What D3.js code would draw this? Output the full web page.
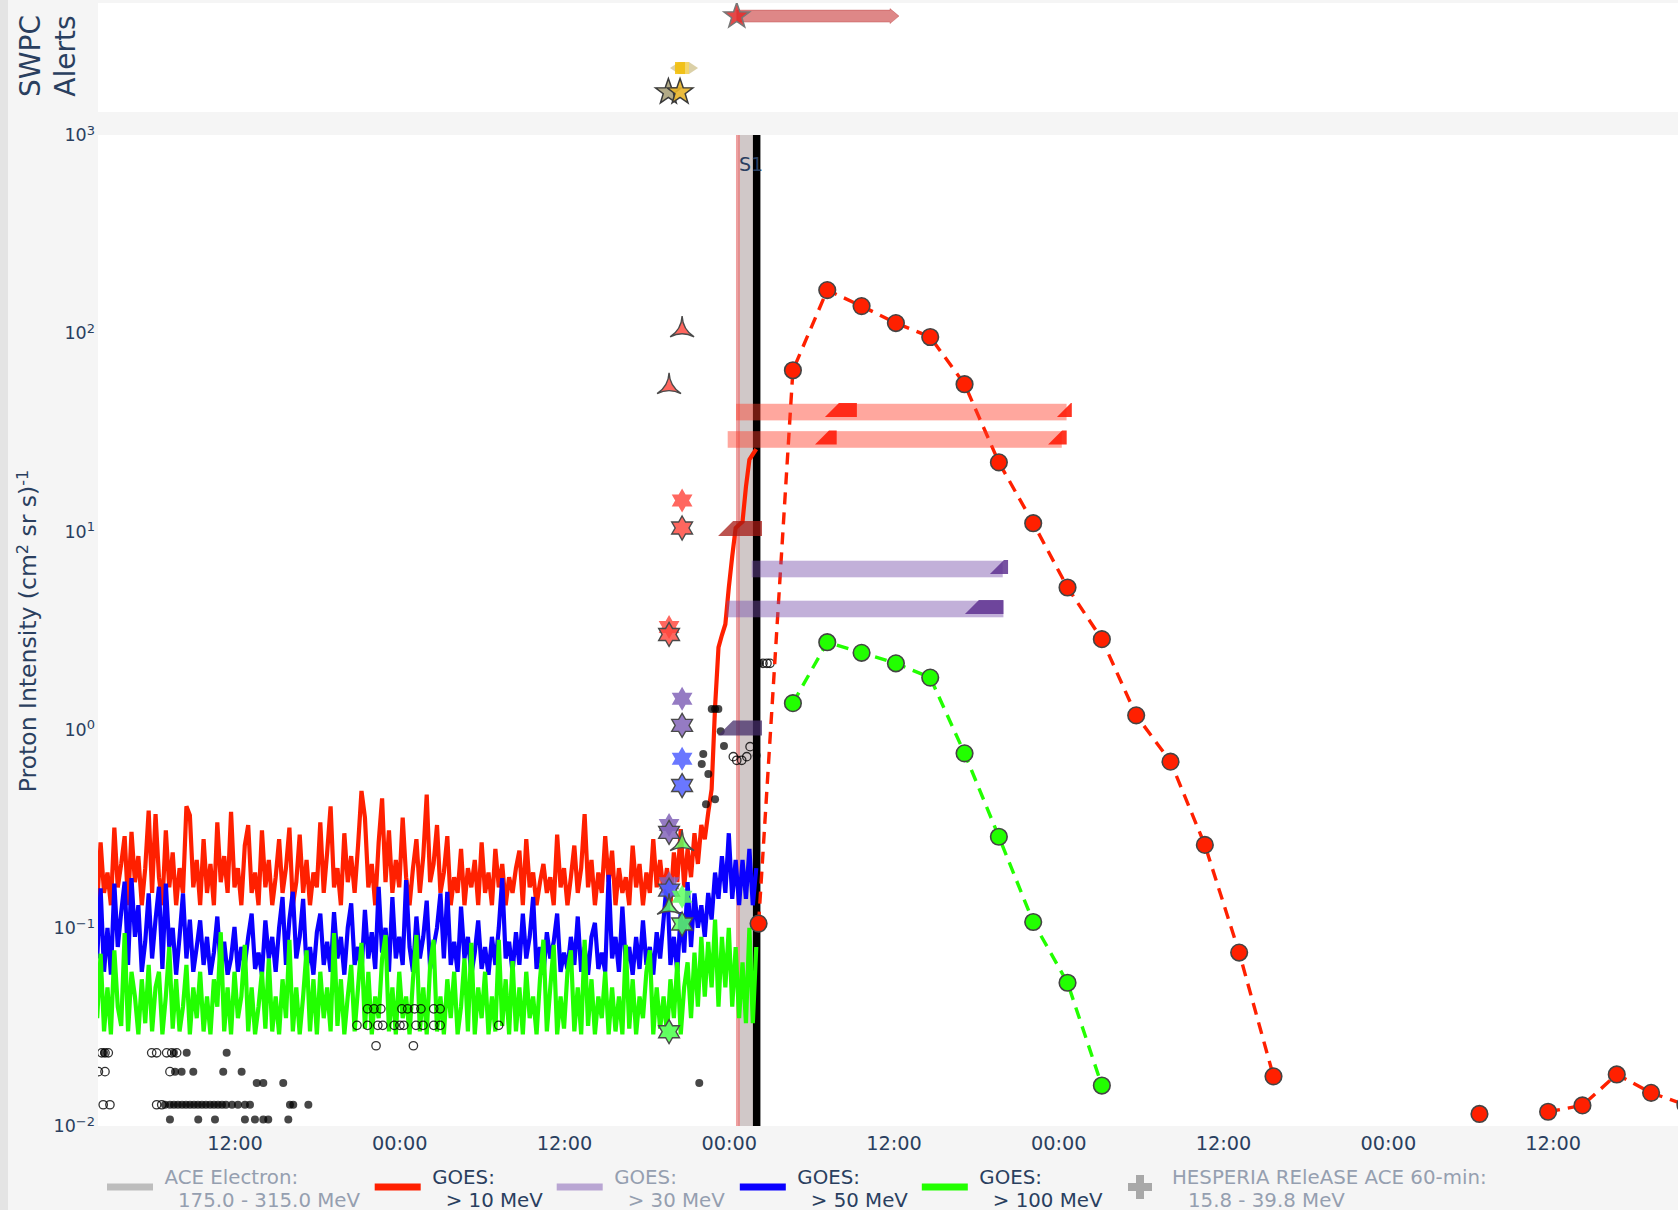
<!DOCTYPE html>
<html>
<head>
<meta charset="utf-8">
<script src="https://cdn.jsdelivr.net/npm/d3@7"></script>
<style>
  html, body { margin: 0; padding: 0; background: #f5f5f5; }
  svg { display: block; font-family: "DejaVu Sans", Verdana, sans-serif; }
</style>
</head>
<body>
<svg id="chart" width="1678" height="1210"></svg>
<script>
// ---------------------------------------------------------------
// Times are stored as hours counted from DAY0 (UTC midnight, day 1)
// ---------------------------------------------------------------
const DAY0 = Date.UTC(2024, 4, 10);
const HOUR = 3600e3;
const at = h => new Date(DAY0 + h * HOUR);

const viewStartHour = 2.06;
const viewEndHour = 117.13;
const xTickHours = [12, 24, 36, 48, 60, 72, 84, 96, 108];
const yTickValues = [1e-2, 1e-1, 1e0, 1e1, 1e2, 1e3];
const yTickExponents = ["\u22122", "\u22121", "0", "1", "2", "3"];

// GOES integral proton flux, 15-minute samples from 02:00 on day 1
const goesStartHour = 2.0;
const goesStepHours = 0.25;
const goes10 = [
  0.13,0.27,0.15,0.19,0.13,0.32,0.16,0.21,0.29,0.13,
  0.305,0.17,0.23,0.13,0.2,0.39,0.15,0.375,0.18,0.13,
  0.31,0.16,0.24,0.13,0.2,0.15,0.41,0.37,0.16,0.22,
  0.13,0.28,0.15,0.21,0.13,0.34,0.17,0.23,0.15,0.385,
  0.16,0.2,0.13,0.26,0.33,0.15,0.19,0.13,0.31,0.16,
  0.22,0.13,0.18,0.28,0.15,0.2,0.32,0.13,0.17,0.295,
  0.15,0.22,0.13,0.19,0.16,0.34,0.15,0.24,0.41,0.16,
  0.2,0.13,0.30,0.17,0.23,0.15,0.26,0.49,0.36,0.16,
  0.21,0.13,0.27,0.45,0.17,0.31,0.15,0.22,0.16,0.36,
  0.18,0.13,0.2,0.28,0.15,0.23,0.47,0.17,0.21,0.33,
  0.15,0.19,0.29,0.13,0.18,0.15,0.25,0.13,0.2,0.16,
  0.22,0.13,0.27,0.15,0.19,0.13,0.25,0.16,0.21,0.13,
  0.18,0.15,0.2,0.245,0.13,0.28,0.16,0.19,0.13,0.17,
  0.21,0.15,0.18,0.13,0.295,0.16,0.2,0.13,0.18,0.26,
  0.15,0.2,0.375,0.16,0.22,0.13,0.19,0.15,0.29,0.17,
  0.245,0.13,0.2,0.15,0.18,0.13,0.26,0.16,0.21,0.13,
  0.19,0.15,0.28,0.16,0.22,0.15,0.2,0.13,0.24,0.17,
  0.315,0.16,0.25,0.18,0.3,0.21,0.33,0.28,0.38,0.5,
  1.3,2.6,3.0,3.4,5.2,7.5,10.4,10.8,11.2,16.8,
  23.0,24.5,26.0
];
const goes50 = [
  0.07,0.158,0.06,0.1,0.058,0.167,0.08,0.12,0.171,0.065,
  0.178,0.09,0.13,0.06,0.085,0.149,0.07,0.11,0.161,0.062,
  0.167,0.08,0.1,0.058,0.09,0.149,0.07,0.11,0.06,0.08,
  0.109,0.065,0.09,0.058,0.075,0.114,0.062,0.085,0.058,0.07,
  0.101,0.06,0.08,0.065,0.09,0.118,0.062,0.075,0.058,0.109,
  0.07,0.09,0.06,0.1,0.143,0.065,0.11,0.152,0.07,0.09,
  0.14,0.062,0.08,0.058,0.095,0.118,0.065,0.085,0.06,0.12,
  0.07,0.09,0.058,0.1,0.133,0.065,0.08,0.06,0.123,0.07,
  0.095,0.062,0.161,0.075,0.1,0.06,0.143,0.07,0.09,0.065,
  0.174,0.08,0.06,0.114,0.07,0.09,0.137,0.062,0.08,0.1,
  0.149,0.07,0.152,0.065,0.085,0.06,0.128,0.07,0.09,0.058,
  0.075,0.109,0.062,0.08,0.058,0.09,0.065,0.1,0.178,0.07,
  0.085,0.06,0.095,0.065,0.118,0.07,0.09,0.143,0.062,0.08,
  0.058,0.095,0.07,0.085,0.118,0.06,0.075,0.062,0.09,0.065,
  0.114,0.06,0.08,0.058,0.09,0.106,0.062,0.075,0.06,0.185,
  0.07,0.09,0.06,0.128,0.065,0.08,0.058,0.09,0.062,0.109,
  0.065,0.08,0.058,0.095,0.07,0.11,0.175,0.065,0.09,0.06,
  0.12,0.075,0.17,0.08,0.149,0.1,0.13,0.09,0.15,0.11,
  0.19,0.14,0.23,0.15,0.30,0.14,0.22,0.13,0.22,0.14,
  0.25,0.13,0.2
];
const goes100 = [
  0.035,0.074,0.03,0.05,0.029,0.077,0.04,0.032,0.094,0.03,
  0.06,0.045,0.029,0.055,0.033,0.065,0.03,0.05,0.06,0.029,
  0.045,0.08,0.031,0.055,0.03,0.04,0.065,0.029,0.05,0.035,
  0.06,0.03,0.045,0.029,0.055,0.04,0.095,0.03,0.05,0.029,
  0.06,0.035,0.045,0.082,0.03,0.05,0.029,0.04,0.06,0.031,
  0.07,0.03,0.045,0.029,0.055,0.035,0.087,0.03,0.05,0.029,
  0.045,0.077,0.03,0.055,0.029,0.06,0.035,0.05,0.03,0.094,
  0.032,0.055,0.029,0.045,0.065,0.03,0.05,0.084,0.031,0.06,
  0.029,0.045,0.035,0.07,0.092,0.03,0.05,0.029,0.06,0.035,
  0.045,0.029,0.055,0.092,0.03,0.05,0.029,0.065,0.087,0.03,
  0.045,0.029,0.055,0.035,0.06,0.029,0.04,0.07,0.03,0.084,
  0.029,0.05,0.035,0.06,0.029,0.045,0.03,0.087,0.032,0.055,
  0.029,0.068,0.03,0.05,0.029,0.06,0.035,0.045,0.029,0.055,
  0.087,0.03,0.05,0.082,0.029,0.045,0.031,0.06,0.077,0.03,
  0.05,0.029,0.087,0.032,0.055,0.029,0.045,0.035,0.06,0.029,
  0.05,0.03,0.045,0.029,0.082,0.031,0.055,0.029,0.045,0.035,
  0.06,0.077,0.029,0.05,0.031,0.045,0.029,0.055,0.035,0.067,
  0.029,0.05,0.067,0.035,0.075,0.04,0.09,0.045,0.085,0.05,
  0.11,0.04,0.09,0.05,0.1,0.04,0.08,0.035,0.067,0.033,
  0.1,0.033,0.08
];

// Model proton profile, 2.5-hour steps (null = no value)
const modelHours = [
  50.17, 52.67, 55.17, 57.67, 60.17, 62.67, 65.17, 67.67, 70.17, 72.67,
  75.17, 77.67, 80.17, 82.67, 85.17, 87.67, 90.17, 92.67, 95.17, 97.67,
  100.17, 102.67, 105.17, 107.67, 110.17, 112.67, 115.17, 117.67
];
const model10 = [
  0.105, 65, 165, 137, 112.5, 95.7, 55.3, 22.3, 11.0, 5.21,
  2.86, 1.18, 0.689, 0.262, 0.075, 0.0178, null, null, null, null,
  null, 0.0115, null, 0.0118, 0.0127, 0.0182, 0.0147, 0.0128
];
const model100 = [
  null, 1.36, 2.76, 2.44, 2.16, 1.83, 0.759, 0.288, 0.107, 0.0528,
  0.016, null, null, null, null, null, null, null, null, null,
  null, null, null, null, null, null, null, null
];

// Particle observations: solid circles
const solidHours = [
  2.50, 7.59, 8.52, 11.43,
  7.67, 8.15, 9.00, 11.18, 12.52,
  13.62, 14.10, 15.55,
  6.94, 7.30, 7.59, 7.88, 8.18, 8.47, 8.76, 9.05, 9.34, 9.63, 9.92, 10.22,
  10.51, 10.80, 11.09, 11.38, 11.82, 12.25, 12.76, 13.13, 16.04, 16.28, 17.38,
  7.30, 9.36, 10.58, 12.76, 13.49, 14.10, 14.46, 15.92,
  46.76, 47.00, 47.24, 47.41, 47.65, 46.14, 46.03, 46.51, 46.34, 47.00,
  50.03, 50.06, 50.27, 45.85
];
const solidValues = [
  0.0234, 0.0234, 0.0234, 0.0234,
  0.0188, 0.0188, 0.0188, 0.0188, 0.0188,
  0.0165, 0.0165, 0.0165,
  0.0128, 0.0128, 0.0128, 0.0128, 0.0128, 0.0128, 0.0128, 0.0128, 0.0128, 0.0128, 0.0128, 0.0128,
  0.0128, 0.0128, 0.0128, 0.0128, 0.0128, 0.0128, 0.0128, 0.0128, 0.0128, 0.0128, 0.0128,
  0.0108, 0.0108, 0.0108, 0.0108, 0.0108, 0.0108, 0.0108, 0.0108,
  1.27, 1.27, 1.27, 0.98, 0.826, 0.753, 0.67, 0.597, 0.42, 0.445,
  0.74, 2.16, 2.16, 0.0165
];
// Particle observations: open circles
const openHours = [
  2.33, 2.57, 2.81, 5.97, 6.33, 7.06, 7.43, 7.79,
  2.09, 2.57, 7.30,
  2.44, 2.93, 6.33, 6.70,
  21.69, 22.16, 22.66, 24.19, 24.61, 25.11, 25.58, 26.51, 26.98,
  20.92, 21.69, 22.44, 22.80, 23.63, 24.05, 24.33, 25.22, 25.73, 26.51, 26.98, 31.24,
  22.31, 25.03,
  48.33, 48.58, 48.94, 49.31, 49.55, 50.49, 50.78, 51.00
];
const openValues = [
  0.0234, 0.0234, 0.0234, 0.0234, 0.0234, 0.0234, 0.0234, 0.0234,
  0.0188, 0.0188, 0.0188,
  0.0128, 0.0128, 0.0128, 0.0128,
  0.039, 0.039, 0.039, 0.039, 0.039, 0.039, 0.039, 0.039, 0.039,
  0.0322, 0.0322, 0.0322, 0.0322, 0.0322, 0.0322, 0.0322, 0.0322, 0.0322, 0.0322, 0.0322, 0.0322,
  0.0254, 0.0254,
  0.73, 0.70, 0.70, 0.73, 0.82, 2.16, 2.16, 2.16
];

// Forecast symbols at issue time
const fcHours   = [44.6, 43.65, 44.6, 44.6, 43.65, 43.65, 44.6, 44.6, 44.6, 44.6,
                   43.65, 43.65, 44.6, 43.65, 43.65, 44.6, 43.65, 44.6, 43.65, 43.65];
const fcValues  = [105.7, 54.6, 14.3, 10.4, 3.29, 3.02, 1.43, 1.05, 0.713, 0.522,
                   0.33, 0.303, 0.27, 0.168, 0.155, 0.1436, 0.129, 0.1045, 0.0299, 0.0299];
const fcShapes  = ["tri", "tri", "hex", "hex", "hex", "hex", "hex", "hex", "hex", "hex",
                   "hex", "hex", "tri", "hex", "hex", "hex", "tri", "hex", "hex", "hex"];
const fcChannel = ["p10", "p10", "p10", "p10", "p10", "p10", "p30", "p30", "p50", "p50",
                   "p30", "p30", "p100", "p30", "p50", "p100", "p100", "p100", "p100", "p100"];
const fcOutline = [true, true, false, true, false, true, false, true, false, true,
                   false, true, true, false, true, false, true, true, false, true];

// Forecast peak-flux windows
const winStart   = [48.53, 47.92, 49.67, 47.85];
const winEnd     = [72.60, 72.25, 67.95, 68.00];
const winValue   = [40, 29.1, 6.46, 4.06];
const winChannel = ["p10", "p10", "p30", "p30"];
// Solid onset / end wedges
const wedgeStart   = [55.0, 71.9, 54.28, 71.25, 67.02, 65.2, 47.22, 47.22];
const wedgeEnd     = [57.33, 72.98, 55.86, 72.61, 68.34, 68.0, 50.42, 50.42];
const wedgeValue   = [40, 40, 29.1, 29.1, 6.46, 4.06, 10.35, 1.02];
const wedgeChannel = ["p10", "p10", "p10", "p10", "p30", "p30", "p10dark", "p30dark"];

// Event markers
const bandStartHour = 48.67;
const bandEndHour = 50.03;
const onsetHour = 50.03;
const onsetLabel = "S1";

// SWPC alerts panel
const alertBarStart = [48.58, 43.72];
const alertBarEnd   = [59.74, 45.76];
const alertBarLevel = [2.64, 1.21];
const alertBarTone  = ["warning", "watch"];
const alertStarHours = [48.58, 43.6, 44.45];
const alertStarLevel = [2.64, 0.55, 0.55];
const alertStarTone  = ["warning", "olive", "gold"];

// Legend entries
const legendLine1 = ["ACE Electron:", "GOES:", "GOES:", "GOES:", "GOES:", "HESPERIA REleASE ACE 60-min:"];
const legendLine2 = ["175.0 - 315.0 MeV", "> 10 MeV", "> 30 MeV", "> 50 MeV", "> 100 MeV", "15.8 - 39.8 MeV"];
const legendHidden = [true, false, true, false, false, true];

// ---------------------------------------------------------------
const INK = "#2a3f5f";
const INK_FADED = "#959fb0";
const RED = "#ff2000", BLUE = "#0a00ff", GREEN = "#22ff00";
const channelFill = {
  p10: "rgba(255,70,60,0.82)", p30: "rgba(130,100,185,0.85)",
  p50: "rgba(80,95,255,0.85)", p100: "rgba(95,255,95,0.85)"
};
const winFill = { p10: "rgba(255,60,40,0.45)", p30: "rgba(120,80,170,0.45)" };
const wedgeFill = {
  p10: "rgba(255,30,10,0.9)", p30: "rgba(95,50,145,0.85)",
  p10dark: "rgba(165,25,20,0.75)", p30dark: "rgba(70,45,105,0.75)"
};

const plot = { left: 98, right: 1678, top: 135, bottom: 1126 };
const alertsBox = { top: 3, bottom: 112 };

const x = d3.scaleUtc().domain([at(viewStartHour), at(viewEndHour)]).range([plot.left, plot.right]);
const y = d3.scaleLog().domain([1e-2, 1e3]).range([plot.bottom, plot.top]);
const ya = d3.scaleLinear().domain([0, 3]).range([alertsBox.bottom, alertsBox.top]);

const svg = d3.select("#chart");

// paper and plot backgrounds
svg.append("rect").attr("width", 1678).attr("height", 1210).attr("fill", "#f5f5f5");
svg.append("rect").attr("width", 8).attr("height", 1210).attr("fill", "#e4e4e4");
svg.append("rect").attr("x", plot.left).attr("y", alertsBox.top)
  .attr("width", plot.right - plot.left).attr("height", alertsBox.bottom - alertsBox.top).attr("fill", "#fff");
svg.append("rect").attr("x", plot.left).attr("y", plot.top)
  .attr("width", plot.right - plot.left).attr("height", plot.bottom - plot.top).attr("fill", "#fff");

const defs = svg.append("defs");
defs.append("clipPath").attr("id", "clipMain").append("rect")
  .attr("x", plot.left).attr("y", plot.top)
  .attr("width", plot.right - plot.left).attr("height", plot.bottom - plot.top);
defs.append("clipPath").attr("id", "clipAlerts").append("rect")
  .attr("x", plot.left).attr("y", alertsBox.top)
  .attr("width", plot.right - plot.left).attr("height", alertsBox.bottom - alertsBox.top);

const main = svg.append("g").attr("clip-path", "url(#clipMain)");

// ---- event band and lines ----
main.append("rect")
  .attr("x", x(at(bandStartHour))).attr("y", plot.top)
  .attr("width", x(at(bandEndHour)) - x(at(bandStartHour))).attr("height", plot.bottom - plot.top)
  .attr("fill", "rgba(150,132,132,0.45)");
main.append("line")
  .attr("x1", x(at(bandStartHour))).attr("x2", x(at(bandStartHour)))
  .attr("y1", plot.top).attr("y2", plot.bottom)
  .attr("stroke", "rgba(232,120,120,0.7)").attr("stroke-width", 4);
main.append("line")
  .attr("x1", x(at(onsetHour))).attr("x2", x(at(onsetHour)))
  .attr("y1", plot.top).attr("y2", plot.bottom)
  .attr("stroke", "#000").attr("stroke-width", 7.5);

// ---- GOES series ----
const goesLine = d3.line().x(d => x(d.t)).y(d => y(d.v));
const toSeries = vals => vals.map((v, i) => ({ t: at(goesStartHour + i * goesStepHours), v }));
[[goes10, RED], [goes50, BLUE], [goes100, GREEN]].forEach(([vals, c]) => {
  main.append("path").datum(toSeries(vals))
    .attr("d", goesLine).attr("fill", "none")
    .attr("stroke", c).attr("stroke-width", 4.2).attr("stroke-linejoin", "miter");
});

// ---- observation circles ----
main.append("g").selectAll("circle").data(solidHours.map((h, i) => ({ t: at(h), v: solidValues[i] })))
  .join("circle").attr("cx", d => x(d.t)).attr("cy", d => y(d.v)).attr("r", 4)
  .attr("fill", "rgba(0,0,0,0.72)");
main.append("g").selectAll("circle").data(openHours.map((h, i) => ({ t: at(h), v: openValues[i] })))
  .join("circle").attr("cx", d => x(d.t)).attr("cy", d => y(d.v)).attr("r", 4.2)
  .attr("fill", "none").attr("stroke", "rgba(0,0,0,0.8)").attr("stroke-width", 1.3);

// ---- model profiles ----
const modelLine = d3.line().defined(d => d.v != null).x(d => x(d.t)).y(d => y(d.v));
[[model10, RED], [model100, GREEN]].forEach(([vals, c]) => {
  const pts = modelHours.map((h, i) => ({ t: at(h), v: vals[i] }));
  main.append("path").datum(pts).attr("d", modelLine).attr("fill", "none")
    .attr("stroke", c).attr("stroke-width", 3.4).attr("stroke-dasharray", "12,8");
  main.append("g").selectAll("circle").data(pts.filter(d => d.v != null)).join("circle")
    .attr("cx", d => x(d.t)).attr("cy", d => y(d.v)).attr("r", 8.3)
    .attr("fill", c).attr("stroke", "#444").attr("stroke-width", 1.6);
});

// ---- forecast windows ----
const BAR_HALF = 8.3;
main.append("g").selectAll("rect").data(winStart.map((s, i) => i)).join("rect")
  .attr("x", i => x(at(winStart[i])))
  .attr("width", i => x(at(winEnd[i])) - x(at(winStart[i])))
  .attr("y", i => y(winValue[i]) - BAR_HALF).attr("height", 2 * BAR_HALF)
  .attr("fill", i => winFill[winChannel[i]]);

function wedgePath(i) {
  const x0 = x(at(wedgeStart[i])), x1 = x(at(wedgeEnd[i]));
  const yc = y(wedgeValue[i]);
  const flag = wedgeChannel[i].endsWith("dark");
  const top = flag ? yc - 7.5 : yc - 9, bot = flag ? yc + 7.5 : yc + 5;
  const h = bot - top;
  const xt = Math.min(x0 + h, x1);
  return `M${x0},${bot}L${xt},${top}L${x1},${top}L${x1},${bot}Z`;
}
main.append("g").selectAll("path").data(wedgeStart.map((s, i) => i)).join("path")
  .attr("d", wedgePath).attr("fill", i => wedgeFill[wedgeChannel[i]]);

// ---- forecast symbols ----
function starPath(R, r, n) {
  const pts = [];
  for (let k = 0; k < 2 * n; k++) {
    const a = -Math.PI / 2 + k * Math.PI / n;
    const rad = k % 2 ? r : R;
    pts.push([(rad * Math.cos(a)).toFixed(2), (rad * Math.sin(a)).toFixed(2)]);
  }
  return "M" + pts.map(p => p.join(",")).join("L") + "Z";
}
function concaveTriangle(s) {
  const top = -s * 1.04, bot = s * 0.7, R = s * 2.2;
  return `M${-s},${bot}A${R},${R} 0 0 1 ${s},${bot}A${R},${R} 0 0 1 0,${top}A${R},${R} 0 0 1 ${-s},${bot}Z`;
}
const hexagram = starPath(12, 12 / Math.sqrt(3), 6);
const triangle = concaveTriangle(12);
main.append("g").selectAll("path").data(fcHours.map((h, i) => i)).join("path")
  .attr("transform", i => `translate(${x(at(fcHours[i]))},${y(fcValues[i])})`)
  .attr("d", i => fcShapes[i] === "tri" ? triangle : hexagram)
  .attr("fill", i => channelFill[fcChannel[i]])
  .attr("stroke", i => fcOutline[i] ? "#4a4a4a" : "none")
  .attr("stroke-width", 1.4);

// ---- onset label ----
svg.append("text").attr("x", x(at(bandStartHour)) + 1).attr("y", 170.5)
  .attr("font-size", 19).attr("fill", INK).text(onsetLabel);

// ---- alerts panel ----
const alerts = svg.append("g").attr("clip-path", "url(#clipAlerts)");
alertBarStart.forEach((s, i) => {
  const x0 = x(at(s)), x1 = x(at(alertBarEnd[i])), yc = ya(alertBarLevel[i]);
  if (alertBarTone[i] === "warning") {
    alerts.append("path")
      .attr("d", `M${x0},${yc - 6}L${x1},${yc - 6}L${x1},${yc - 7.5}L${x1 + 9},${yc}L${x1},${yc + 7.5}L${x1},${yc + 6}L${x0},${yc + 6}Z`)
      .attr("fill", "rgba(200,55,55,0.6)").attr("stroke", "rgba(180,50,50,0.35)").attr("stroke-width", 1);
  } else {
    alerts.append("path")
      .attr("d", `M${x0},${yc}L${x0 + 9},${yc - 6}L${x1 - 9},${yc - 6}L${x1},${yc}L${x1 - 9},${yc + 6}L${x0 + 9},${yc + 6}Z`)
      .attr("fill", "rgba(190,170,95,0.55)");
    alerts.append("rect").attr("x", x0 + 5).attr("width", 10).attr("y", yc - 6).attr("height", 12)
      .attr("fill", "rgba(245,190,0,0.85)");
    alerts.append("rect").attr("x", x0 + 15).attr("width", 4).attr("y", yc - 6).attr("height", 12)
      .attr("fill", "rgba(250,215,90,0.8)");
  }
});
const star5 = starPath(13.5, 5.4, 5);
const starFill = { warning: "rgba(225,40,40,0.85)", olive: "rgba(160,150,105,0.8)", gold: "rgba(232,180,40,0.9)" };
alerts.append("g").selectAll("path").data(alertStarHours.map((h, i) => i)).join("path")
  .attr("transform", i => `translate(${x(at(alertStarHours[i]))},${ya(alertStarLevel[i])})`)
  .attr("d", star5)
  .attr("fill", i => starFill[alertStarTone[i]])
  .attr("stroke", i => alertStarTone[i] === "warning" ? "#777" : "#3a3a3a")
  .attr("stroke-width", 1.5);

// ---- axes ----
const xAxis = d3.axisBottom(x)
  .tickValues(xTickHours.map(at))
  .tickFormat(d3.utcFormat("%H:%M"))
  .tickSize(0).tickPadding(10);
const gx = svg.append("g").attr("transform", `translate(0,${plot.bottom})`).call(xAxis);
gx.select(".domain").remove();
gx.selectAll("text").attr("font-size", 19.3).attr("fill", INK).attr("font-family", "DejaVu Sans");

const yAxis = d3.axisLeft(y).tickValues(yTickValues).tickSize(0).tickPadding(3).tickFormat(() => "");
const gy = svg.append("g").attr("transform", `translate(${plot.left},0)`).call(yAxis);
gy.select(".domain").remove();
gy.selectAll("text").each(function (d, i) {
  const t = d3.select(this).attr("font-size", 17.5).attr("fill", INK).attr("font-family", "DejaVu Sans");
  t.append("tspan").text("10");
  t.append("tspan").attr("dy", "-0.48em").attr("font-size", 13).text(yTickExponents[i]);
});

// axis titles
const yTitle = svg.append("text")
  .attr("transform", `translate(36,631) rotate(-90)`)
  .attr("text-anchor", "middle").attr("font-size", 23.5).attr("fill", INK);
yTitle.append("tspan").text("Proton Intensity (cm");
yTitle.append("tspan").attr("dy", -8.5).attr("font-size", 16).text("2");
yTitle.append("tspan").attr("dy", 8.5).attr("font-size", 23.5).text(" sr s)");
yTitle.append("tspan").attr("dy", -8.5).attr("font-size", 16).text("-1");

const aTitle = svg.append("text")
  .attr("transform", `translate(40,56) rotate(-90)`)
  .attr("text-anchor", "middle").attr("font-size", 28).attr("fill", INK);
aTitle.append("tspan").attr("x", 0).attr("dy", 0).text("SWPC");
aTitle.append("tspan").attr("x", 0).attr("dy", 35).text("Alerts");

// ---- legend ----
const legendX = [107, 374.7, 556.7, 739.8, 921.8, 1126];
const legendSwatch = ["#bdbdbd", RED, "#b9a6d3", BLUE, GREEN, "#a8a8a8"];
const lg = svg.append("g");
legendLine1.forEach((l1, i) => {
  const g = lg.append("g").attr("transform", `translate(${legendX[i]},0)`);
  const ink = legendHidden[i] ? INK_FADED : INK;
  if (i === legendLine1.length - 1) {
    g.append("path").attr("d", "M10,1175h8v8h8v8h-8v8h-8v-8h-8v-8h8z").attr("fill", legendSwatch[i]);
    g.append("text").attr("x", 46).attr("y", 1183.5).attr("font-size", 19.8).attr("fill", ink).text(l1);
    g.append("text").attr("x", 62).attr("y", 1206.5).attr("font-size", 19.8).attr("fill", ink).text(legendLine2[i]);
  } else {
    g.append("rect").attr("x", 0).attr("y", 1183.5).attr("width", 46).attr("height", 7).attr("fill", legendSwatch[i]);
    g.append("text").attr("x", 57.5).attr("y", 1183.5).attr("font-size", 19.8).attr("fill", ink).text(l1);
    g.append("text").attr("x", 71).attr("y", 1206.5).attr("font-size", 19.8).attr("fill", ink).text(legendLine2[i]);
  }
});
</script>
</body>
</html>
